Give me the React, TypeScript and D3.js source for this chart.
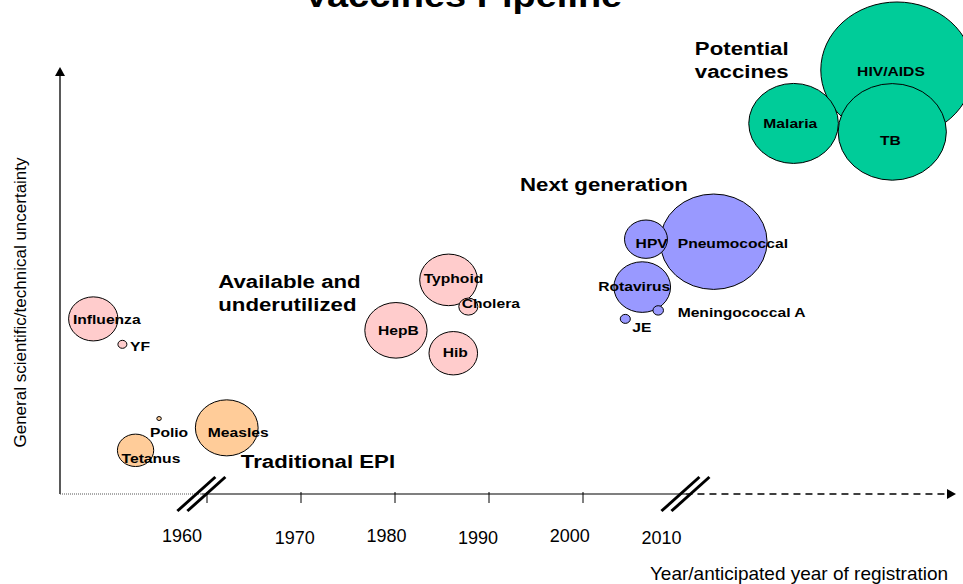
import React from "react";
import * as d3 from "d3";

// ---------- data ----------
const vaccines = ["Influenza", "YF", "Polio", "Measles", "Tetanus", "Typhoid", "Cholera", "HepB", "Hib", "Pneumococcal", "HPV", "Rotavirus", "Meningococcal A", "JE", "HIV/AIDS", "Malaria", "TB"];
const groups = ["underutilized", "underutilized", "traditional", "traditional", "traditional", "underutilized", "underutilized", "underutilized", "underutilized", "next", "next", "next", "next", "next", "potential", "potential", "potential"];
const years = [1947.9, 1951.0, 1954.9, 1962.1, 1952.4, 1985.7, 1987.8, 1980.1, 1986.2, 2013.9, 2006.7, 2006.3, 2008.0, 2004.5, 2033.4, 2022.4, 2032.9];
const uncertainty = [41.3, 35.3, 17.8, 15.6, 10.3, 50.5, 44.2, 38.6, 33.2, 59.5, 60.1, 48.8, 43.3, 41.3, 100, 87.4, 85.4];
const sizes = [19.4, 0.64, 0.16, 31.4, 10.5, 26.6, 2.9, 30.9, 18.8, 91, 14.7, 25.6, 0.88, 0.81, 185, 64, 93.3];

const groupLabels = [["Potential", "vaccines"], ["Next generation"], ["Available and", "underutilized"], ["Traditional EPI"]];
const groupLabelYears = [2011.9, 1993.3, 1961.2, 1963.6];
const groupLabelLevels = [103.5, 71.5, 48.5, 6.1];

const tickYears = [1960, 1970, 1980, 1990, 2000, 2010];
const axisBreakYears = [1959.4, 2010.9];

const title = "Vaccines Pipeline";
const xTitle = "Year/anticipated year of registration";
const yTitle = "General scientific/technical uncertainty";

// ---------- layout / style ----------
const W = 963;
const H = 584;
const colors: Record<string, string> = {
  traditional: "#FFCC99",
  underutilized: "#FFCCCC",
  next: "#9999FF",
  potential: "#00CC99",
};
// label nudges (px) relative to bubble centre, same order as vaccines
const labelNudge: [number, number][] = [
  [13.5, 5], [17.7, 6.4], [10, 18], [11.5, 8.7], [15.4, 12.2], [4.9, 3.3], [22.5, 1.8],
  [2.5, 4.5], [2, 4], [19.2, 6.6], [5.7, 9.1], [-8, 4], [83.4, 6.4], [16.6, 12.9],
  [-6, 6], [-3.3, 4.4], [-1.8, 12.6],
];
const FONT = "'Liberation Sans', Arial, Helvetica, sans-serif";
const STRETCH = 1.15;
const ELLIPSE = 1.12;

const x = d3.scaleLinear().domain([1960, 2000]).range([207, 583]);
const y = d3.scaleLinear().domain([0, 100]).range([494, 70]);
const r = d3.scaleSqrt().domain([0, 100]).range([0, 50]);

const AXIS_Y = y(0);
const AXIS_X = 60;

function SText({ tx, ty, anchor = "start", size, bold = true, stretch = STRETCH, children }: any) {
  return (
    <text
      transform={`translate(${tx},${ty}) scale(${stretch},1)`}
      textAnchor={anchor}
      fontFamily={FONT}
      fontSize={size}
      fontWeight={bold ? "bold" : "normal"}
      fill="#000"
    >
      {children}
    </text>
  );
}

export default function App() {
  const b1 = x(axisBreakYears[0]);
  const b2 = x(axisBreakYears[1]);
  const breakMark = (cx: number, key: string) => (
    <g key={key}>
      {[-5, 5].map((o) => (
        <line
          key={o}
          x1={cx + o - 19}
          y1={AXIS_Y + 17}
          x2={cx + o + 19}
          y2={AXIS_Y - 17}
          stroke="#000"
          strokeWidth={3}
        />
      ))}
    </g>
  );

  return (
    <svg width={W} height={H} style={{ position: "absolute", left: 0, top: 0, background: "#fff" }}>
      <rect width={W} height={H} fill="#fff" />
      {/* title */}
      <SText tx={463} ty={7} anchor="middle" size={33}>{title}</SText>

      {/* y axis */}
      <line x1={AXIS_X} y1={AXIS_Y} x2={AXIS_X} y2={y(100) + 4} stroke="#000" strokeWidth={1.3} />
      <path d={`M${AXIS_X - 5},${y(100) + 6} L${AXIS_X},${y(100) - 3} L${AXIS_X + 5},${y(100) + 6} Z`} fill="#000" />
      <text
        transform={`translate(25.5,${302.5}) rotate(-90)`}
        textAnchor="middle"
        fontFamily={FONT}
        fontSize={17}
      >
        {yTitle}
      </text>

      {/* x axis */}
      <line x1={AXIS_X} y1={AXIS_Y} x2={b1} y2={AXIS_Y} stroke="#555" strokeWidth={1} strokeDasharray="1,1" />
      <line x1={b1} y1={AXIS_Y} x2={b2} y2={AXIS_Y} stroke="#000" strokeWidth={1.2} />
      <line x1={b2} y1={AXIS_Y} x2={947} y2={AXIS_Y} stroke="#000" strokeWidth={1.5} strokeDasharray="7,5" />
      <path d={`M947,${AXIS_Y - 5} L956,${AXIS_Y} L947,${AXIS_Y + 5} Z`} fill="#000" />
      {tickYears
        .filter((t) => x(t) < b2 - 10)
        .map((t) => (
          <line key={t} x1={x(t)} y1={AXIS_Y - 2} x2={x(t)} y2={AXIS_Y + 9} stroke="#000" strokeWidth={1} />
        ))}
      {tickYears.map((t, i) => (
        <text
          key={t}
          x={x(t) - (i === 0 ? 25 : 4 + i * 2.3)}
          y={i % 2 === 0 ? 541.5 : 543.5}
          textAnchor="middle"
          fontFamily={FONT}
          fontSize={18}
        >
          {t}
        </text>
      ))}
      {breakMark(b1, "b1")}
      {breakMark(b2, "b2")}
      <text x={799} y={580} textAnchor="middle" fontFamily={FONT} fontSize={19}>
        {xTitle}
      </text>

      {/* bubbles */}
      {vaccines.map((v, i) => (
        <ellipse
          key={v}
          cx={x(years[i])}
          cy={y(uncertainty[i])}
          rx={r(sizes[i]) * ELLIPSE}
          ry={r(sizes[i])}
          fill={colors[groups[i]]}
          stroke="#000"
          strokeWidth={1}
        />
      ))}
      {vaccines.map((v, i) => (
        <SText
          key={v}
          tx={x(years[i]) + labelNudge[i][0]}
          ty={y(uncertainty[i]) + labelNudge[i][1]}
          anchor="middle"
          size={13.6}
        >
          {v}
        </SText>
      ))}

      {/* group labels */}
      {groupLabels.map((lines, gi) =>
        lines.map((ln, li) => (
          <SText
            key={gi + "-" + li}
            tx={x(groupLabelYears[gi])}
            ty={y(groupLabelLevels[gi]) + li * 23}
            size={19}
            stretch={1.17}
          >
            {ln}
          </SText>
        ))
      )}
    </svg>
  );
}
